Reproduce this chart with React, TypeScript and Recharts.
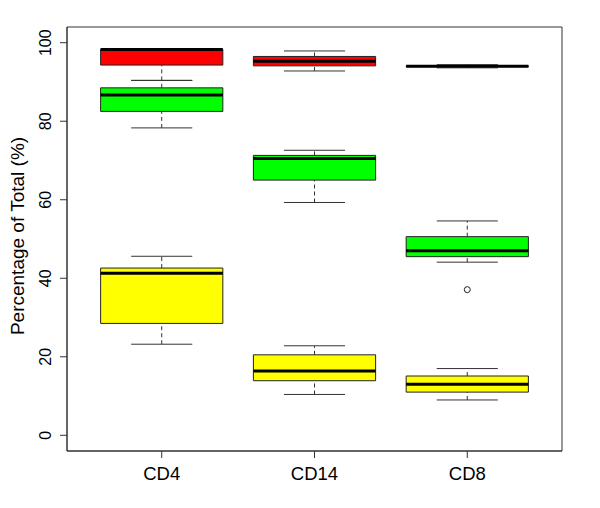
import {
  ComposedChart,
  XAxis,
  YAxis,
  ReferenceArea,
  ReferenceLine,
  Scatter,
} from "recharts";

// ─── Data ──────────────────────────────────────────────────────────────────

const categories = ["CD4", "CD14", "CD8"];

// five-number summaries per category: [min, q1, median, q3, max]
const redStats: number[][] = [
  [90.4, 94.3, 98.3, 98.3, 98.3],
  [92.8, 94.1, 95.3, 96.5, 97.9],
  [93.6, 93.9, 94.0, 94.1, 94.4],
];

const greenStats: number[][] = [
  [78.3, 82.5, 86.7, 88.5, 90.4],
  [59.3, 65.0, 70.5, 71.3, 72.6],
  [44.1, 45.5, 47.0, 50.6, 54.6],
];

const yellowStats: number[][] = [
  [23.2, 28.5, 41.3, 42.6, 45.6],
  [10.4, 13.9, 16.4, 20.5, 22.8],
  [9.0, 11.0, 13.0, 15.1, 17.0],
];

const greenOutliers: number[][] = [[], [], [37.1]];

const yTicks = [0, 20, 40, 60, 80, 100];

const FONT = "'Liberation Sans', Arial, Helvetica, sans-serif";

const series = [
  { name: "red", color: "#ff0000", stats: redStats },
  { name: "green", color: "#00ff00", stats: greenStats },
  { name: "yellow", color: "#ffff00", stats: yellowStats },
];

const outlierPoints = greenOutliers.flatMap((vals, i) =>
  vals.map((v) => ({ x: i + 1, y: v }))
);

// ─── Box pieces ────────────────────────────────────────────────────────────

const BOX_HALF = 0.4;
const CAP_HALF = 0.2;

function boxElements(key: string, color: string, stats: number[][]) {
  const out: JSX.Element[] = [];
  stats.forEach(([lo, q1, med, q3, hi], i) => {
    const c = i + 1;
    out.push(
      <ReferenceLine
        key={`${key}-wl-${i}`}
        segment={[{ x: c, y: lo }, { x: c, y: q1 }]}
        stroke="#333"
        strokeDasharray="4 3"
      />,
      <ReferenceLine
        key={`${key}-wh-${i}`}
        segment={[{ x: c, y: q3 }, { x: c, y: hi }]}
        stroke="#333"
        strokeDasharray="4 3"
      />,
      <ReferenceLine
        key={`${key}-cl-${i}`}
        segment={[{ x: c - CAP_HALF, y: lo }, { x: c + CAP_HALF, y: lo }]}
        stroke="#333"
      />,
      <ReferenceLine
        key={`${key}-ch-${i}`}
        segment={[{ x: c - CAP_HALF, y: hi }, { x: c + CAP_HALF, y: hi }]}
        stroke="#333"
      />,
      <ReferenceArea
        key={`${key}-box-${i}`}
        x1={c - BOX_HALF}
        x2={c + BOX_HALF}
        y1={q1}
        y2={q3}
        fill={color}
        fillOpacity={1}
        stroke="#222"
        strokeWidth={1}
      />,
      <ReferenceLine
        key={`${key}-med-${i}`}
        segment={[{ x: c - BOX_HALF, y: med }, { x: c + BOX_HALF, y: med }]}
        stroke="#000"
        strokeWidth={3}
      />
    );
  });
  return out;
}

// ─── Ticks ─────────────────────────────────────────────────────────────────

function YTick(props: { x?: number; y?: number; payload?: { value: number } }) {
  const { x = 0, y = 0, payload } = props;
  const bx = x - 7;
  return (
    <text
      x={bx}
      y={y}
      transform={`rotate(-90, ${bx}, ${y})`}
      textAnchor="middle"
      fill="#000"
      fontSize={16}
      fontFamily={FONT}
    >
      {payload?.value}
    </text>
  );
}

function YLabel(props: { viewBox?: { y: number; height: number } }) {
  const cy = props.viewBox ? props.viewBox.y + props.viewBox.height / 2 - 3 : 236;
  const bx = 24;
  return (
    <text
      x={bx}
      y={cy}
      transform={`rotate(-90, ${bx}, ${cy})`}
      textAnchor="middle"
      fill="#000"
      fontSize={19}
      fontFamily={FONT}
    >
      Percentage of Total (%)
    </text>
  );
}

// ─── Main ──────────────────────────────────────────────────────────────────

export default function App() {
  return (
    <div style={{ position: "absolute", left: 0, top: 0, background: "#fff" }}>
      <ComposedChart
        width={600}
        height={508}
        margin={{ top: 27, right: 38, bottom: 0, left: 0 }}
      >
        <XAxis
          dataKey="x"
          type="number"
          domain={[0.38, 3.62]}
          ticks={[1, 2, 3]}
          tickFormatter={(v: number) => categories[v - 1] ?? ""}
          height={57}
          tickSize={7}
          tickMargin={9}
          stroke="#333"
          tick={{ fill: "#000", fontSize: 18.5, fontFamily: FONT }}
          allowDataOverflow
        />
        <YAxis
          type="number"
          domain={[-4, 104]}
          ticks={yTicks}
          width={67}
          tickSize={7}
          tickMargin={2}
          stroke="#333"
          tick={<YTick />}
          label={<YLabel />}
          allowDataOverflow
        />

        <ReferenceArea
          x1={0.38}
          x2={3.62}
          y1={-4}
          y2={104}
          fill="none"
          stroke="#333"
          strokeWidth={1}
          ifOverflow="visible"
        />

        {series.flatMap((s) => boxElements(s.name, s.color, s.stats))}

        <Scatter
          data={outlierPoints}
          dataKey="y"
          isAnimationActive={false}
          shape={(p: { cx?: number; cy?: number }) => (
            <circle cx={p.cx} cy={p.cy} r={3} fill="none" stroke="#222" strokeWidth={1} />
          )}
        />
      </ComposedChart>
    </div>
  );
}
